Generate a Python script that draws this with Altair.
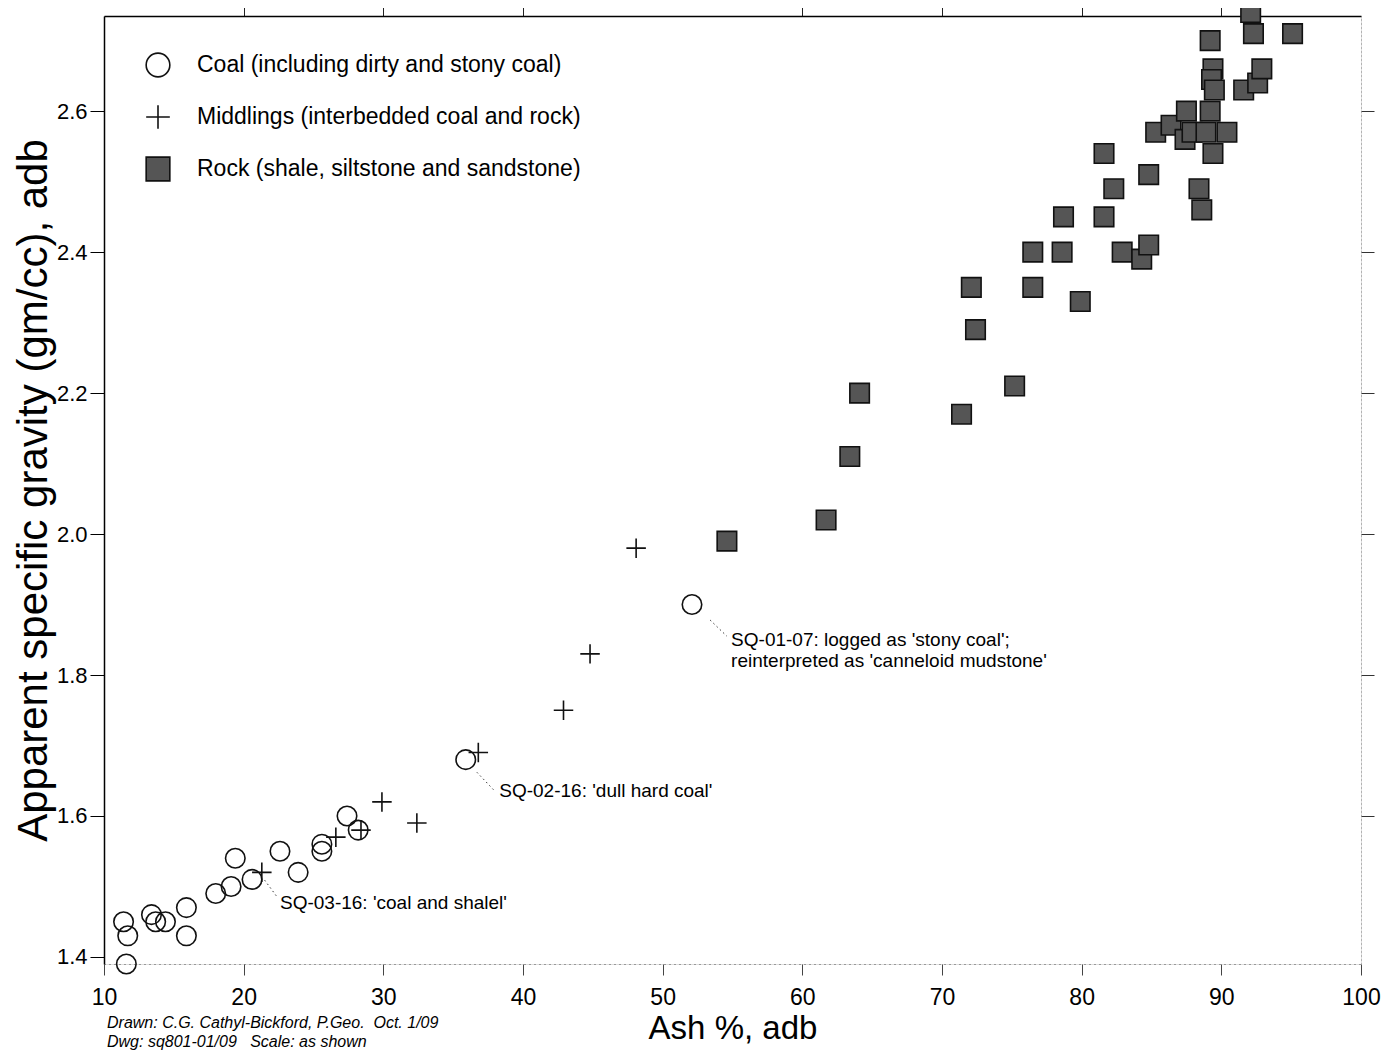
import altair as alt
import pandas as pd

# ---------------- data ----------------
types = [
    "Coal (including dirty and stony coal)",
    "Middlings (interbedded coal and rock)",
    "Rock (shale, siltstone and sandstone)",
]

coal_ash = [11.4, 11.7, 11.6, 13.4, 13.7, 14.4, 15.9, 15.9, 18.0, 19.1,
            19.4, 20.6, 22.6, 23.9, 25.6, 25.6, 27.4, 28.2, 35.9, 52.1]
coal_sg = [1.45, 1.43, 1.39, 1.46, 1.45, 1.45, 1.47, 1.43, 1.49, 1.50,
           1.54, 1.51, 1.55, 1.52, 1.56, 1.55, 1.60, 1.58, 1.68, 1.90]

mid_ash = [21.3, 26.6, 28.4, 29.9, 32.4, 36.8, 42.9, 44.8, 48.1]
mid_sg = [1.52, 1.57, 1.58, 1.62, 1.59, 1.69, 1.75, 1.83, 1.98]

rock_ash = [54.6, 61.7, 63.4, 64.1, 71.4, 72.1, 72.4, 75.2, 76.5, 76.5,
            78.7, 78.6, 79.9, 81.6, 81.6, 82.3, 82.9, 84.3, 84.8, 84.8,
            85.3, 86.4, 87.5, 87.4, 87.9, 88.9, 88.4, 88.6, 89.2, 89.4,
            89.3, 89.5, 89.2, 89.4, 90.4, 91.6, 92.6, 92.9, 92.1, 92.3,
            95.1]
rock_sg = [1.99, 2.02, 2.11, 2.20, 2.17, 2.35, 2.29, 2.21, 2.40, 2.35,
           2.45, 2.40, 2.33, 2.54, 2.45, 2.49, 2.40, 2.39, 2.41, 2.51,
           2.57, 2.58, 2.60, 2.56, 2.57, 2.57, 2.49, 2.46, 2.70, 2.66,
           2.645, 2.63, 2.60, 2.54, 2.57, 2.63, 2.64, 2.66, 2.74, 2.71,
           2.71]

ann_text = ["SQ-01-07: logged as 'stony coal';\nreinterpreted as 'canneloid mudstone'",
            "SQ-02-16: 'dull hard coal'",
            "SQ-03-16: 'coal and shalel'"]
ann_x = [54.9, 38.3, 22.6]
ann_y = [1.862, 1.648, 1.489]

lead_x1 = [53.4, 36.7, 21.5]
lead_y1 = [1.878, 1.662, 1.509]
lead_x2 = [54.6, 37.9, 22.4]
lead_y2 = [1.855, 1.637, 1.485]

credits = ["Drawn: C.G. Cathyl-Bickford, P.Geo.\u00a0\u00a0Oct. 1/09\n"
           "Dwg: sq801-01/09\u00a0\u00a0\u00a0Scale: as shown"]

x_ticks = [10, 20, 30, 40, 50, 60, 70, 80, 90, 100]
y_ticks = [1.4, 1.6, 1.8, 2.0, 2.2, 2.4, 2.6]
top_ticks = [20, 30, 40, 60, 70, 80, 90]
right_ticks = [1.6, 1.8, 2.0, 2.2, 2.4, 2.6]

# ---------------- tables ----------------
rows = []
for t, xs, ys in zip(types, [coal_ash, mid_ash, rock_ash], [coal_sg, mid_sg, rock_sg]):
    rows += [{"type": t, "ash": a, "sg": s} for a, s in zip(xs, ys)]
df = pd.DataFrame(rows)

ann_df = pd.DataFrame({"text": ann_text, "x": ann_x, "y": ann_y})
lead_df = pd.DataFrame({"x1": lead_x1, "y1": lead_y1, "x2": lead_x2, "y2": lead_y2})
cred_df = pd.DataFrame({"text": credits})

FONT = "Liberation Sans"
xscale = alt.Scale(domain=[10, 100], nice=False, zero=False)
yscale = alt.Scale(domain=[1.39, 2.735], nice=False, zero=False)
CROSS = "M-1,0H1M0,-1V1"

legend = alt.Legend(
    title=None, orient="none", legendX=41, legendY=36,
    symbolSize=560, symbolStrokeColor="#111", symbolStrokeWidth=1.6,
    labelFontSize=23, labelFont=FONT, labelColor="#000", labelOffset=26,
    labelLimit=700, rowPadding=20,
)

points = alt.Chart(df).mark_point(
    filled=True, size=380, strokeWidth=1.6, opacity=1
).encode(
    x=alt.X("ash:Q", scale=xscale, axis=alt.Axis(
        title="Ash %, adb", values=x_ticks, format="d", grid=False,
        domainDash=[1, 4], domainColor="#555", domainWidth=1,
        tickSize=11, tickColor="#444", labelFontSize=23, labelPadding=11,
        labelColor="#000", titleFontSize=33, titleFontWeight="normal",
        titleColor="#000", titlePadding=3, labelFlush=False)),
    y=alt.Y("sg:Q", scale=yscale, axis=alt.Axis(
        title="Apparent specific gravity (gm/cc), adb", values=y_ticks,
        format=".1f", grid=False, domainColor="#000", domainWidth=1.5,
        tickSize=14, tickColor="#000", labelFontSize=22, labelPadding=3,
        labelColor="#000", titleFontSize=42, titleFontWeight="normal",
        titleColor="#000", titlePadding=1)),
    shape=alt.Shape("type:N", scale=alt.Scale(domain=types, range=["circle", CROSS, "square"]),
                    legend=legend),
    fill=alt.Fill("type:N", scale=alt.Scale(domain=types, range=["transparent", "transparent", "#555555"]),
                  legend=legend),
    stroke=alt.Stroke("type:N", scale=alt.Scale(domain=types, range=["#111111", "#111111", "#111111"]),
                      legend=legend),
)

leaders = alt.Chart(lead_df).mark_rule(
    strokeDash=[1.5, 3], stroke="#333", strokeWidth=1
).encode(
    x=alt.X("x1:Q", scale=xscale, axis=alt.Axis(
        orient="top", values=top_ticks, labels=False, title=None, grid=False,
        domainColor="#000", domainWidth=1.5, tickSize=12, tickColor="#222")),
    y=alt.Y("y1:Q", scale=yscale, axis=alt.Axis(
        orient="right", values=right_ticks, labels=False, title=None, grid=False,
        domainDash=[1, 3], domainColor="#888", tickSize=13, tickColor="#333")),
    x2="x2:Q",
    y2="y2:Q",
)

annotations = alt.Chart(ann_df).mark_text(
    align="left", baseline="top", fontSize=19, font=FONT, color="#000",
    lineBreak="\n", lineHeight=21
).encode(
    x=alt.X("x:Q", scale=xscale, axis=None),
    y=alt.Y("y:Q", scale=yscale, axis=None),
    text="text:N",
)

credit_text = alt.Chart(cred_df).mark_text(
    align="left", baseline="top", fontSize=16, font=FONT, fontStyle="italic",
    color="#000", lineBreak="\n", lineHeight=19
).encode(
    x=alt.value(3),
    y=alt.value(999),
    text="text:N",
)

chart = alt.layer(points, leaders, annotations, credit_text).resolve_axis(
    x="independent", y="independent"
).properties(
    width=1257, height=948,
    autosize=alt.AutoSizeParams(type="none"),
    padding={"left": 96, "top": 8, "right": 21, "bottom": 88},
    background="white",
).configure_view(stroke=None).configure(font=FONT)

chart.save("out.html", embed_options={"renderer": "svg", "actions": False})
